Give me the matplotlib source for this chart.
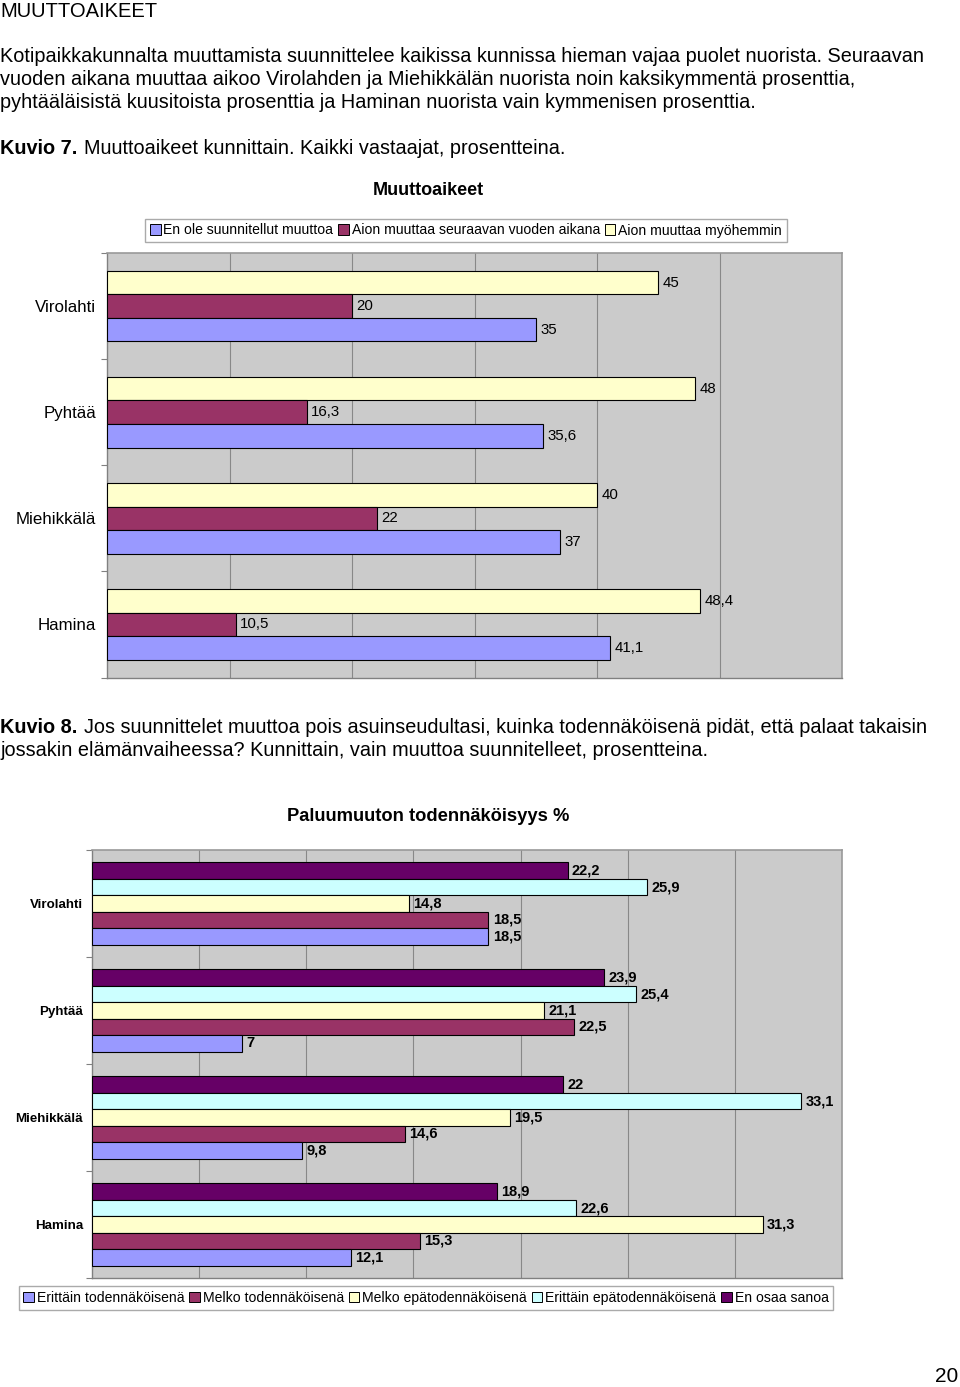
import matplotlib
matplotlib.use('Agg')
import matplotlib.pyplot as plt
from matplotlib.patches import Patch

plt.rcParams['font.family'] = ['Liberation Sans', 'DejaVu Sans']

# data
kunnat = ['Virolahti', 'Pyhtää', 'Miehikkälä', 'Hamina']

# Kuvio 7: muuttoaikeet
en_ole = [35, 35.6, 37, 41.1]
seuraava_vuosi = [20, 16.3, 22, 10.5]
myohemmin = [45, 48, 40, 48.4]
sarjat7 = ['En ole suunnitellut muuttoa', 'Aion muuttaa seuraavan vuoden aikana',
           'Aion muuttaa myöhemmin']

# Kuvio 8: paluumuuton todennakoisyys
erittain_tod = [18.5, 7, 9.8, 12.1]
melko_tod = [18.5, 22.5, 14.6, 15.3]
melko_epatod = [14.8, 21.1, 19.5, 31.3]
erittain_epatod = [25.9, 25.4, 33.1, 22.6]
en_osaa = [22.2, 23.9, 22, 18.9]
sarjat8 = ['Erittäin todennäköisenä', 'Melko todennäköisenä', 'Melko epätodennäköisenä',
           'Erittäin epätodennäköisenä', 'En osaa sanoa']

sininen = '#9999FF'
viini = '#993366'
keltainen = '#FFFFCC'
syaani = '#CCFFFF'
violetti = '#660066'

W, H = 960, 1387
fig = plt.figure(figsize=(W / 100, H / 100), dpi=100)

def fx(px):
    return px / W

def fy(py):
    return 1 - py / H

def fmt(v):
    return f'{v:g}'.replace('.', ',')

# page text
fs = 14.3
fig.text(fx(0), fy(17), 'MUUTTOAIKEET', fontsize=14.5, va='baseline')
rivit = ['Kotipaikkakunnalta muuttamista suunnittelee kaikissa kunnissa hieman vajaa puolet nuorista. Seuraavan',
         'vuoden aikana muuttaa aikoo Virolahden ja Miehikkälän nuorista noin kaksikymmentä prosenttia,',
         'pyhtääläisistä kuusitoista prosenttia ja Haminan nuorista vain kymmenisen prosenttia.']
for i, r in enumerate(rivit):
    fig.text(fx(0), fy(62 + i * 23), r, fontsize=fs, va='baseline')

fig.text(fx(0), fy(154), 'Kuvio 7.', fontsize=fs, fontweight='bold', va='baseline')
fig.text(fx(84), fy(154), 'Muuttoaikeet kunnittain. Kaikki vastaajat, prosentteina.', fontsize=fs, va='baseline')
fig.text(fx(0), fy(733), 'Kuvio 8.', fontsize=fs, fontweight='bold', va='baseline')
fig.text(fx(84), fy(733), 'Jos suunnittelet muuttoa pois asuinseudultasi, kuinka todennäköisenä pidät, että palaat takaisin',
         fontsize=fs, va='baseline')
fig.text(fx(0), fy(756), 'jossakin elämänvaiheessa? Kunnittain, vain muuttoa suunnitelleet, prosentteina.',
         fontsize=fs, va='baseline')

fig.text(fx(428), fy(195), 'Muuttoaikeet', fontsize=13, fontweight='bold', ha='center', va='baseline')
fig.text(fx(428), fy(821), 'Paluumuuton todennäköisyys %', fontsize=13.2, fontweight='bold', ha='center', va='baseline')
fig.text(fx(958), fy(1386), '20', fontsize=15, ha='right', va='bottom')


def tyyli(ax, xmax, step, lblsize, lblweight, pad):
    ax.set_facecolor('#CBCBCB')
    ax.set_xlim(0, xmax)
    ax.set_ylim(len(kunnat) - 0.5, -0.5)
    ax.set_xticks(range(step, xmax, step))
    ax.xaxis.grid(True, color='#888888', linewidth=0.8)
    ax.set_axisbelow(True)
    ax.tick_params(axis='x', length=0, labelbottom=False)
    ax.set_yticks([i - 0.5 for i in range(len(kunnat) + 1)])
    ax.set_yticklabels([])
    ax.tick_params(axis='y', which='major', length=4, color='#808080', width=0.8)
    ax.set_yticks(range(len(kunnat)), minor=True)
    ax.set_yticklabels(kunnat, minor=True, fontsize=lblsize, fontweight=lblweight)
    ax.tick_params(axis='y', which='minor', length=0, pad=pad)
    for s in ['left', 'bottom']:
        ax.spines[s].set_color('#808080')
        ax.spines[s].set_linewidth(1.0)
    for s in ['top', 'right']:
        ax.spines[s].set_color('#999999')
        ax.spines[s].set_linewidth(1.2)


# Kuvio 7
ax1 = fig.add_axes([fx(107), fy(677.5), fx(842 - 107), (677.5 - 253) / H])
h1 = 0.222
y = range(len(kunnat))
for arvot, vari, off in [(myohemmin, keltainen, -h1), (seuraava_vuosi, viini, 0), (en_ole, sininen, h1)]:
    pos = [i + off for i in y]
    ax1.barh(pos, arvot, height=h1, color=vari, edgecolor='black', linewidth=0.8, zorder=3)
    for p, v in zip(pos, arvot):
        ax1.text(v + 0.35, p, fmt(v), fontsize=10.8, va='center', ha='left', zorder=4)
tyyli(ax1, 60, 10, 12.2, 'normal', 8)

fig.legend(handles=[Patch(facecolor=c, edgecolor='black', linewidth=0.7) for c in [sininen, viini, keltainen]],
           labels=sarjat7, loc='center', bbox_to_anchor=(fx(466), fy(230.5)), ncol=3, fontsize=10.1,
           frameon=True, fancybox=False, edgecolor='#AAAAAA', framealpha=1,
           handlelength=0.75, handleheight=0.75, handletextpad=0.2, columnspacing=0.35, borderpad=0.35)

# Kuvio 8
ax2 = fig.add_axes([fx(92), fy(1278), fx(842 - 92), (1278 - 850) / H])
h2 = 0.154
sarjat = [(en_osaa, violetti, -2 * h2), (erittain_epatod, syaani, -h2), (melko_epatod, keltainen, 0),
          (melko_tod, viini, h2), (erittain_tod, sininen, 2 * h2)]
for arvot, vari, off in sarjat:
    pos = [i + off for i in y]
    ax2.barh(pos, arvot, height=h2, color=vari, edgecolor='black', linewidth=0.8, zorder=3)
    for p, v in zip(pos, arvot):
        ax2.text(v + 0.2, p, fmt(v), fontsize=10.5, fontweight='bold', va='center', ha='left', zorder=4)
tyyli(ax2, 35, 5, 9.6, 'bold', 6.5)

fig.legend(handles=[Patch(facecolor=c, edgecolor='black', linewidth=0.7)
                    for c in [sininen, viini, keltainen, syaani, violetti]],
           labels=sarjat8, loc='center', bbox_to_anchor=(fx(426), fy(1298)), ncol=5, fontsize=10.1,
           frameon=True, fancybox=False, edgecolor='#AAAAAA', framealpha=1,
           handlelength=0.75, handleheight=0.75, handletextpad=0.2, columnspacing=0.35, borderpad=0.35)

fig.savefig('out.png', dpi=100)
